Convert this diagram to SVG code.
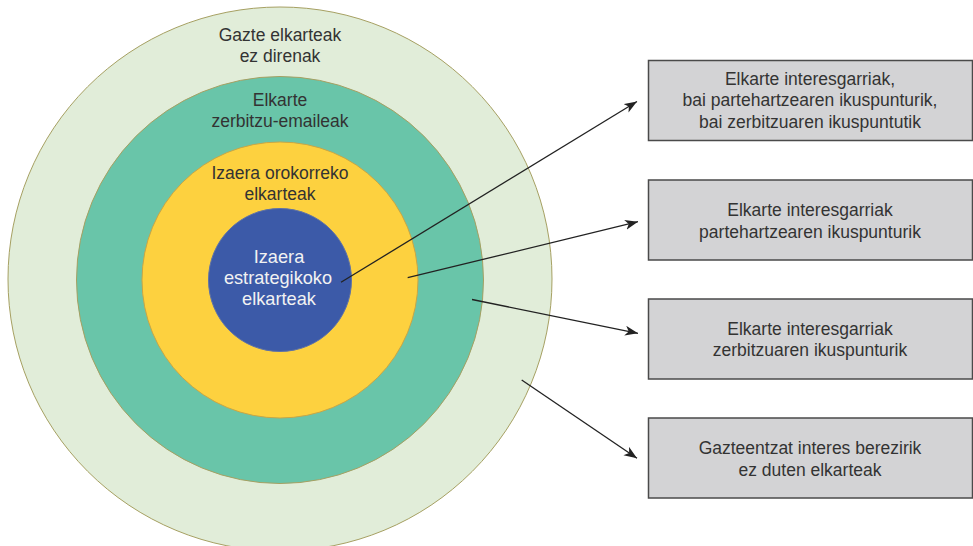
<svg xmlns="http://www.w3.org/2000/svg" width="973" height="546" viewBox="0 0 973 546">
<style>
  .ring { stroke-width: 1; }
  .lbl { font-family: "Liberation Sans", Arial, Helvetica, sans-serif; font-size: 17.5px; fill: #333333; text-anchor: middle; }
  .lblw { font-family: "Liberation Sans", Arial, Helvetica, sans-serif; font-size: 18.2px; fill: #f2f2f2; text-anchor: middle; }
  .box { fill: #d3d3d5; stroke: #4a4a4a; stroke-width: 1.5; }
  .btxt { font-family: "Liberation Sans", Arial, Helvetica, sans-serif; font-size: 17.5px; fill: #333333; text-anchor: middle; }
  .conn { stroke: #222222; stroke-width: 1.3; fill: none; marker-end: url(#arrow); }
</style>
<defs>
  <marker id="arrow" markerUnits="userSpaceOnUse" markerWidth="14" markerHeight="12" refX="13" refY="5" orient="auto">
    <path d="M0,0 L13,5 L0,10 L3.5,5 Z" fill="#222222"/>
  </marker>
</defs>
<rect width="973" height="546" fill="#ffffff"/>

<g id="ring-outer">
  <circle class="ring" cx="280" cy="279" r="272" fill="#e1edd9" stroke="#a6a062"/>
  <text class="lbl" x="280" y="40.5">Gazte elkarteak</text>
  <text class="lbl" x="280" y="62">ez direnak</text>
</g>
<g id="ring-service">
  <circle class="ring" cx="280" cy="280" r="203.5" fill="#69c5a9" stroke="#a6a062"/>
  <text class="lbl" x="280" y="106">Elkarte</text>
  <text class="lbl" x="280" y="127">zerbitzu-emaileak</text>
</g>
<g id="ring-general">
  <circle class="ring" cx="280" cy="280" r="138" fill="#fdd13f" stroke="#c9a645"/>
  <text class="lbl" x="280" y="178.5">Izaera orokorreko</text>
  <text class="lbl" x="280" y="199.5">elkarteak</text>
</g>
<g id="ring-strategic">
  <circle class="ring" cx="280" cy="280" r="71.5" fill="#3c5aa8" stroke="#5f72a6"/>
  <text class="lblw" x="279" y="262.7">Izaera</text>
  <text class="lblw" x="278" y="283.5">estrategikoko</text>
  <text class="lblw" x="279" y="305">elkarteak</text>
</g>

<g id="box-1">
  <rect class="box" x="648.5" y="60.5" width="324" height="80"/>
  <text class="btxt" x="810" y="84.5">Elkarte interesgarriak,</text>
  <text class="btxt" x="810" y="106">bai partehartzearen ikuspunturik,</text>
  <text class="btxt" x="810" y="127.5">bai zerbitzuaren ikuspuntutik</text>
</g>
<g id="box-2">
  <rect class="box" x="648.5" y="180" width="324" height="80"/>
  <text class="btxt" x="810" y="216">Elkarte interesgarriak</text>
  <text class="btxt" x="810" y="237.5">partehartzearen ikuspunturik</text>
</g>
<g id="box-3">
  <rect class="box" x="648.5" y="299" width="324" height="80"/>
  <text class="btxt" x="810" y="334.5">Elkarte interesgarriak</text>
  <text class="btxt" x="810" y="356">zerbitzuaren ikuspunturik</text>
</g>
<g id="box-4">
  <rect class="box" x="648.5" y="418" width="324" height="80"/>
  <text class="btxt" x="810" y="454">Gazteentzat interes berezirik</text>
  <text class="btxt" x="810" y="475.5">ez duten elkarteak</text>
</g>

<g id="connectors">
  <line class="conn" x1="341" y1="282.3" x2="637" y2="101.5"/>
  <line class="conn" x1="407.7" y1="277.7" x2="638" y2="221.7"/>
  <line class="conn" x1="472" y1="299.5" x2="638" y2="333.3"/>
  <line class="conn" x1="521.7" y1="380" x2="637" y2="458.3"/>
</g>
</svg>
